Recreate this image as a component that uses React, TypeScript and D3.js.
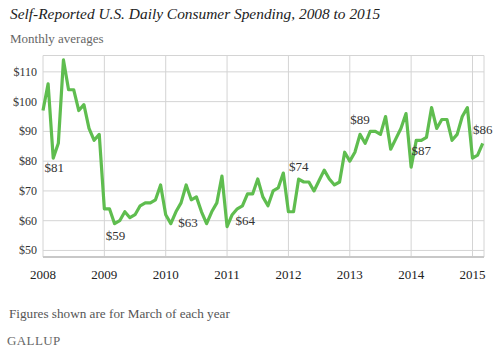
import React, { useMemo } from 'react';
import * as d3 from 'd3';

const WIDTH = 494;
const HEIGHT = 352;
const PLOT = { left: 43, right: 484, top: 55.5, bottom: 257 };

// monthly averages, Jan 2008 .. Mar 2015
const MONTH_VALUES = [
  97, 106, 81, 86, 114, 104, 104, 97, 99, 91, 87, 89,
  64, 64, 59, 60, 63, 61, 62, 65, 66, 66, 67, 72,
  62, 59, 63, 66, 72, 67, 68, 63, 59, 63, 66, 75,
  58, 62, 64, 65, 69, 69, 74, 68, 65, 70, 71, 76,
  63, 63, 74, 73, 73, 70, 73.5, 77, 74, 72, 73, 83,
  80, 83, 89, 86, 90, 90, 89, 95, 84, 87.5, 91, 96,
  78, 87, 87, 88, 98, 91, 94, 94, 87, 89, 95, 98,
  81, 82, 86,
];
const YEAR_LABELS = ['2008', '2009', '2010', '2011', '2012', '2013', '2014', '2015'];
const Y_TICKS = [50, 60, 70, 80, 90, 100, 110];
const CALLOUT_MONTHS = [2, 14, 26, 38, 50, 62, 74, 86];

// label offset from its point: [dx, dy]
const CALLOUT_OFFSET = {
  2: [1, 14], 14: [1, 16], 26: [12, 15], 38: [8, 16],
  50: [0, -8], 62: [0, -10], 74: [0, 15], 86: [0, -9],
};

const LINE_COLOR = '#5fbd4f';
const GRID_COLOR = '#d4d4d4';
const SERIF = '"Liberation Serif", "DejaVu Serif", serif';

export default function App() {
  const { x, y, path } = useMemo(() => {
    const x = d3.scaleLinear().domain([0, 86.25]).range([PLOT.left, PLOT.right]);
    const y = d3.scaleLinear().domain([47.8, 115.5]).range([PLOT.bottom, PLOT.top]);
    const line = d3
      .line<number>()
      .x((_, i) => x(i))
      .y((d) => y(d));
    return { x, y, path: line(MONTH_VALUES) ?? '' };
  }, []);

  return (
    <div style={{ position: 'absolute', left: 0, top: 0 }}>
      <svg width={WIDTH} height={HEIGHT} style={{ display: 'block', background: '#fff' }} fontFamily={SERIF}>
        <text x={10} y={19} fontSize={15.4} fontStyle="italic" fill="#222">
          Self-Reported U.S. Daily Consumer Spending, 2008 to 2015
        </text>
        <text x={10} y={43} fontSize={13} fill="#666">
          Monthly averages
        </text>

        {/* grid */}
        <line x1={PLOT.left} x2={PLOT.right} y1={PLOT.top} y2={PLOT.top} stroke={GRID_COLOR} />
        <line x1={PLOT.right} x2={PLOT.right} y1={PLOT.top} y2={PLOT.bottom} stroke={GRID_COLOR} />
        {Y_TICKS.map((t) => (
          <g key={`y-${t}`}>
            <line x1={PLOT.left} x2={PLOT.right} y1={y(t)} y2={y(t)} stroke={GRID_COLOR} />
            <text x={37} y={y(t) + 4} fontSize={12} textAnchor="end" fill="#333">
              ${t}
            </text>
          </g>
        ))}
        {YEAR_LABELS.map((label, i) => (
          <g key={`x-${label}`}>
            <line x1={x(i * 12)} x2={x(i * 12)} y1={PLOT.top} y2={PLOT.bottom} stroke={GRID_COLOR} />
            <text x={x(i * 12)} y={279} fontSize={13} textAnchor="middle" fill="#222">
              {label}
            </text>
          </g>
        ))}
        <line x1={PLOT.left} x2={PLOT.right} y1={PLOT.bottom} y2={PLOT.bottom} stroke="#c8c8c8" strokeWidth={2} />

        <path d={path} fill="none" stroke={LINE_COLOR} strokeWidth={3.2} strokeLinejoin="round" />

        {CALLOUT_MONTHS.map((m) => {
          const [dx, dy] = CALLOUT_OFFSET[m];
          return (
            <text
              key={`c-${m}`}
              x={x(m) + dx}
              y={y(MONTH_VALUES[m]) + dy}
              fontSize={13}
              textAnchor="middle"
              fill="#333"
            >
              ${MONTH_VALUES[m]}
            </text>
          );
        })}

        <text x={9} y={318} fontSize={13.2} fill="#555">
          Figures shown are for March of each year
        </text>
        <text x={7} y={345} fontSize={13} fill="#666" letterSpacing={0.4}>
          GALLUP
        </text>
      </svg>
    </div>
  );
}
